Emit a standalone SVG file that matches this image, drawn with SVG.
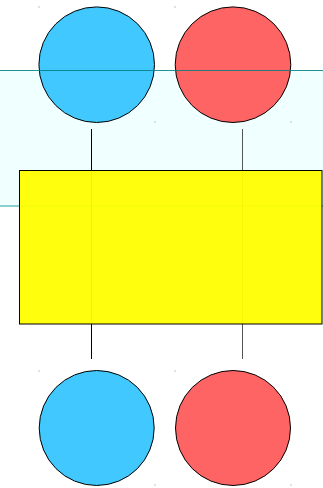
<svg xmlns="http://www.w3.org/2000/svg" width="323" height="488" viewBox="0 0 323 488">
<style>
.node{stroke:#000;stroke-width:1}
.blue{fill:#40c8ff}
.red{fill:#ff6464}
.dot{fill:#888}
</style>
<rect width="323" height="488" fill="#fff"/>
<g id="band">
<rect x="0" y="70" width="323" height="136" fill="#f0ffff"/>
<line x1="0" y1="206" x2="323" y2="206" stroke="#20a0a0" stroke-width="1"/>
</g>
<g id="connectors">
<line x1="91.5" y1="129" x2="91.5" y2="359" stroke="#000" stroke-width="1"/>
<line x1="242.5" y1="129" x2="242.5" y2="359" stroke="#555" stroke-width="1"/>
</g>
<g id="top-blue"><circle class="node blue" cx="96.7" cy="64.7" r="57.8"/></g>
<g id="top-red"><circle class="node red" cx="233" cy="64.7" r="57.8"/></g>
<line x1="0" y1="70.5" x2="323" y2="70.5" stroke="#007f80" stroke-width="1" opacity="0.85"/>
<g id="box"><rect class="node" x="19.5" y="170.5" width="302.5" height="153.5" fill="#ffff00" fill-opacity="0.95"/></g>
<g id="bottom-blue"><circle class="node blue" cx="96.7" cy="428" r="57.5"/></g>
<g id="bottom-red"><circle class="node red" cx="233" cy="428" r="57.5"/></g>
<g id="marks">
<rect class="dot" x="38.5" y="6.5" width="1" height="1"/>
<rect class="dot" x="174.5" y="6.5" width="1" height="1"/>
<rect class="dot" x="154.5" y="121.5" width="1" height="1"/>
<rect class="dot" x="290.5" y="121.5" width="1" height="1"/>
<rect class="dot" x="38.5" y="370.5" width="1" height="1"/>
<rect class="dot" x="174.5" y="370.5" width="1" height="1"/>
<rect class="dot" x="154.5" y="484.5" width="1" height="1"/>
<rect class="dot" x="290.5" y="484.5" width="1" height="1"/>
</g>
</svg>
